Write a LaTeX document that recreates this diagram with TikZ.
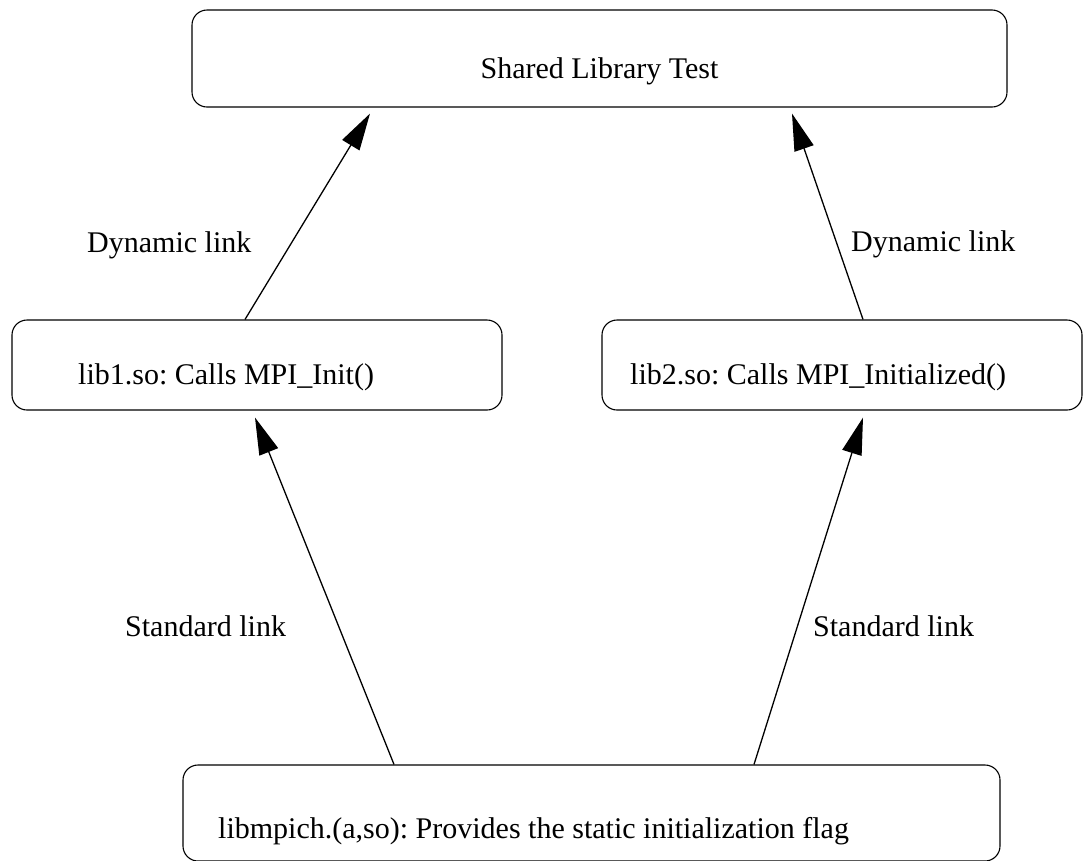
\documentclass[tikz,border=0pt]{standalone}
\usepackage{fontspec}
\setmainfont{Liberation Serif}
\usetikzlibrary{arrows.meta}
\frenchspacing
\begin{document}
\begin{tikzpicture}[x=1pt,y=-1pt,
  box/.style={draw=black,line width=1.1pt,rounded corners=15pt,inner sep=0pt},
  txt/.style={anchor=base west,inner sep=0pt,font=\fontsize{30pt}{36pt}\selectfont},
  link/.style={draw=black,line width=1.3pt,-{Triangle[length=37pt,width=20pt]}}]
\useasboundingbox (0,0) rectangle (1083,860);
% boxes
\node[box,minimum width=815pt,minimum height=97pt] (top) at (599.5,58.5) {};
\node[box,minimum width=490pt,minimum height=90pt] (lib1) at (257,365) {};
\node[box,minimum width=480pt,minimum height=90pt] (lib2) at (842,365) {};
\node[box,minimum width=817pt,minimum height=96pt] (mpich) at (591.5,813) {};
% box texts
\node[txt,anchor=base] (ttop) at (599.5,78) {Shared Library Test};
\node[txt] (tlib1) at (78,384) {lib1.so: Calls MPI\_Init()};
\node[txt] (tlib2) at (630,384) {lib2.so: Calls MPI\_Initialized()};
\node[txt] (tmpich) at (218,838) {libmpich.(a,so): Provides the static initialization flag};
% connectors
\draw[link] ([xshift=-12pt]lib1.north) -- ([xshift=-229.5pt,yshift=-6pt]top.south);
\draw[link] ([xshift=21pt]lib2.north) -- ([xshift=192.5pt,yshift=-6pt]top.south);
\draw[link] ([xshift=-197.5pt]mpich.north) -- ([xshift=-2pt,yshift=-7pt]lib1.south);
\draw[link] ([xshift=162.5pt]mpich.north) -- ([xshift=21pt,yshift=-7pt]lib2.south);
% labels
\node[txt] (dl1) at (87,252) {Dynamic link};
\node[txt] (dl2) at (851,251) {Dynamic link};
\node[txt] (sl1) at (125,636) {Standard link};
\node[txt] (sl2) at (813,636) {Standard link};
\end{tikzpicture}
\end{document}
